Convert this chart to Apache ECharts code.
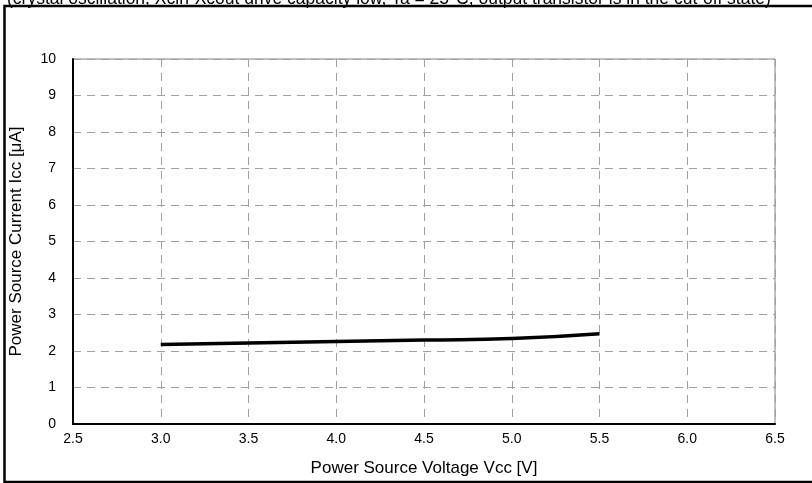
<!DOCTYPE html>
<html><head><meta charset="utf-8">
<script src="https://cdn.jsdelivr.net/npm/echarts@6/dist/echarts.min.js"></script>
<style>html,body{margin:0;padding:0;background:#fff}#c{width:812px;height:483px}</style>
</head><body><div id="c"></div>
<script>
var voltage = [3.0, 3.5, 4.0, 4.5, 5.0, 5.5];
var current = [2.18, 2.22, 2.26, 2.30, 2.34, 2.47];
var titleText = '(crystal oscillation, Xcin-Xcout drive capacity low, Ta = 25°C, output transistor is in the cut-off state)';
var xName = 'Power Source Voltage Vcc [V]';
var yName = 'Power Source Current Icc [μA]';

var chart = echarts.init(document.getElementById('c'), null, {renderer: 'canvas'});
var font = 'Liberation Sans, Arial, sans-serif';
chart.setOption({
  animation: false,
  backgroundColor: '#fff',
  grid: {left: 73, right: 37, top: 59, bottom: 59, show: true, borderColor: '#808080', borderWidth: 1},
  graphic: [
    {type: 'rect', shape: {x: 4.5, y: 6, width: 820, height: 476}, style: {fill: 'none', stroke: '#000', lineWidth: 2.5}, z: 10},
    {type: 'text', x: 7, y: 8, style: {text: titleText, font: '17.5px ' + font, fill: '#000', verticalAlign: 'bottom'}, z: 9}
  ],
  xAxis: {
    type: 'value', min: 2.5, max: 6.5, interval: 0.5,
    name: xName, nameLocation: 'middle', nameGap: 36,
    nameTextStyle: {fontFamily: font, fontSize: 17, color: '#000'},
    axisLine: {show: true, onZero: false, lineStyle: {color: '#000', width: 2}},
    axisTick: {show: false},
    axisLabel: {fontFamily: font, fontSize: 14, color: '#000', margin: 8, formatter: function (v) { return v.toFixed(1); }},
    splitLine: {show: true, lineStyle: {color: '#a0a0a0', type: [8, 6], width: 1}}
  },
  yAxis: {
    type: 'value', min: 0, max: 10, interval: 1,
    name: yName, nameLocation: 'middle', nameGap: 48, nameRotate: 90,
    nameTextStyle: {fontFamily: font, fontSize: 17, color: '#000'},
    axisLine: {show: true, onZero: false, lineStyle: {color: '#000', width: 2}},
    axisTick: {show: false},
    axisLabel: {fontFamily: font, fontSize: 14, color: '#000', margin: 17},
    splitLine: {show: true, lineStyle: {color: '#a0a0a0', type: [8, 6], width: 1}}
  },
  series: [{
    type: 'line', smooth: true, symbol: 'none',
    data: voltage.map(function (v, i) { return [v, current[i]]; }),
    lineStyle: {color: '#000', width: 3.5}
  }]
});
</script></body></html>
